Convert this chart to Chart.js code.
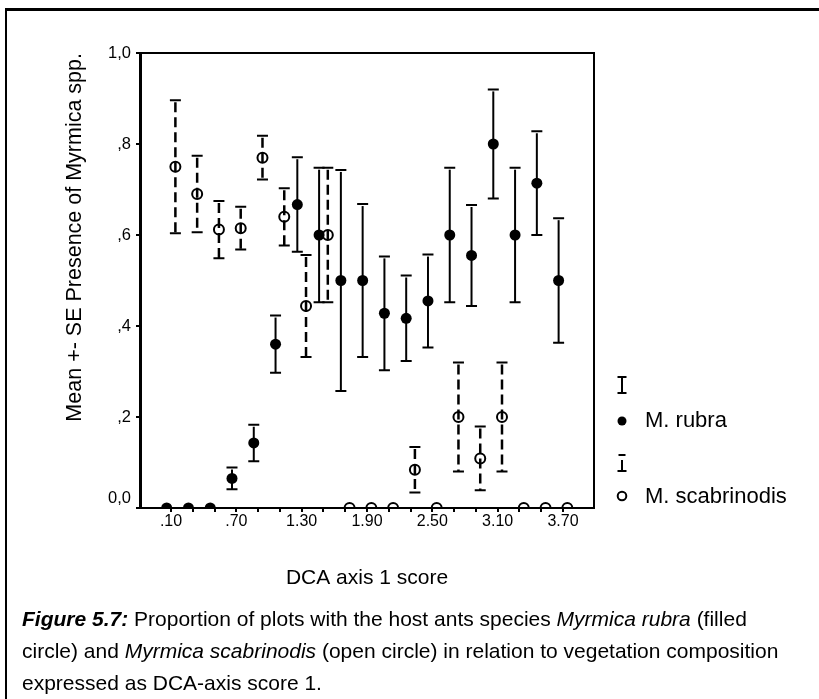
<!DOCTYPE html>
<html>
<head>
<meta charset="utf-8">
<title>Myrmica presence along DCA axis 1</title>
<script src="https://cdn.jsdelivr.net/npm/chart.js@4.4.1/dist/chart.umd.min.js"></script>
<style>
  html, body { margin: 0; padding: 0; background: #fff; }
  body { width: 819px; height: 699px; position: relative; overflow: hidden;
         font-family: "Liberation Sans", Arial, sans-serif; color: #000; }
  #frame { position: absolute; left: 5px; top: 8px; width: 840px; height: 690px;
           border-top: 3px solid #000; border-left: 2px solid #000; }
  #plot { position: absolute; left: 0; top: 0; width: 819px; height: 699px; }
  #caption { position: absolute; left: 22px; top: 603px; font-size: 21px;
             line-height: 32px; white-space: nowrap; }
</style>
</head>
<body>
<div id="frame"></div>
<div id="plot"><canvas id="chart" width="819" height="699"></canvas></div>
<div id="caption"><b><i>Figure 5.7:</i></b> Proportion of plots with the host ants species <i>Myrmica rubra</i> (filled<br>circle) and <i>Myrmica scabrinodis</i> (open circle) in relation to vegetation composition<br>expressed as DCA-axis score 1.</div>
<script>
// DCA axis 1 score classes
const categoryScores = [0.10, 0.30, 0.50, 0.70, 0.90, 1.10, 1.30, 1.50, 1.70, 1.90,
                        2.10, 2.30, 2.50, 2.70, 2.90, 3.10, 3.30, 3.50, 3.70];

// Myrmica rubra: mean presence and standard error per class
const rubraMean = [0, 0, 0, 0.065, 0.143, 0.360, 0.667, 0.600, 0.500, 0.500,
                   0.428, 0.417, 0.455, 0.600, 0.555, 0.800, 0.600, 0.714, 0.500];
const rubraSE   = [0, 0, 0, 0.024, 0.040, 0.063, 0.104, 0.148, 0.243, 0.168,
                   0.125, 0.094, 0.102, 0.148, 0.111, 0.120, 0.148, 0.114, 0.137];

// Myrmica scabrinodis: mean presence and standard error per class
const scabMean = [0.750, 0.690, 0.612, 0.615, 0.770, 0.640, 0.444, 0.600, 0, 0,
                  0, 0.084, 0, 0.200, 0.109, 0.200, 0, 0, 0];
const scabSE   = [0.146, 0.084, 0.063, 0.047, 0.048, 0.063, 0.112, 0.148, 0, 0,
                  0, 0.050, 0, 0.120, 0.070, 0.120, 0, 0, 0];

// axis tick labels
const labeledScores = [0.10, 0.70, 1.30, 1.90, 2.50, 3.10, 3.70];
const xTickLabels   = ['.10', '.70', '1.30', '1.90', '2.50', '3.10', '3.70'];
const yTickLabels   = ['0,0', ',2', ',4', ',6', ',8', '1,0'];

const FONT = "'Liberation Sans', Arial, sans-serif";
Chart.defaults.font.family = FONT;
Chart.defaults.color = '#000';

// the two species sit side by side within each score class
const clusterOffset = 0.04;

// vertical mean +- SE bars, drawn underneath the markers
const errorBarPlugin = {
  id: 'errorBars',
  beforeDatasetsDraw(chart) {
    const { ctx, scales: { x, y } } = chart;
    chart.data.datasets.forEach((ds) => {
      const cap = 5.5;
      ds.data.forEach((pt, i) => {
        const se = ds.errorBars[i];
        if (!se) return;
        const px = x.getPixelForValue(pt.x);
        const top = y.getPixelForValue(pt.y + se);
        const bot = y.getPixelForValue(pt.y - se);
        ctx.save();
        ctx.strokeStyle = '#000';
        ctx.lineWidth = ds.barWidth;
        ctx.setLineDash(ds.barDash);
        ctx.beginPath();
        ctx.moveTo(px, top + 2);
        ctx.lineTo(px, bot);
        ctx.stroke();
        ctx.setLineDash([]);
        ctx.lineWidth = 2;
        ctx.beginPath();
        ctx.moveTo(px - cap, top); ctx.lineTo(px + cap, top);
        ctx.moveTo(px - cap, bot); ctx.lineTo(px + cap, bot);
        ctx.stroke();
        ctx.restore();
      });
    });
  },
  afterDraw(chart) {
    // close the plot frame on the top and right
    const { ctx, chartArea: a } = chart;
    ctx.save();
    ctx.strokeStyle = '#000';
    ctx.lineWidth = 2;
    ctx.beginPath();
    ctx.moveTo(a.left, a.top);
    ctx.lineTo(a.right, a.top);
    ctx.lineTo(a.right, a.bottom);
    ctx.stroke();
    ctx.restore();
  }
};

// legend at the right: error-bar symbol above each marker
const sideLegendPlugin = {
  id: 'sideLegend',
  afterDraw(chart) {
    const { ctx, chartArea: a } = chart;
    const ix = a.right + 28;
    const tx = a.right + 51;
    const cap = 4.5;
    ctx.save();
    ctx.strokeStyle = '#000';
    ctx.fillStyle = '#000';
    ctx.lineWidth = 2;

    // solid bar symbol
    ctx.beginPath();
    ctx.moveTo(ix, 377); ctx.lineTo(ix, 393);
    ctx.moveTo(ix - cap, 377); ctx.lineTo(ix + cap, 377);
    ctx.moveTo(ix - cap, 393); ctx.lineTo(ix + cap, 393);
    ctx.stroke();

    // filled marker
    ctx.beginPath();
    ctx.arc(ix, 421, 4.5, 0, Math.PI * 2);
    ctx.fill();

    // dashed bar symbol
    ctx.beginPath();
    ctx.moveTo(ix - cap + 1, 455); ctx.lineTo(ix + cap - 1, 455);
    ctx.moveTo(ix, 460); ctx.lineTo(ix, 471);
    ctx.moveTo(ix - cap, 471); ctx.lineTo(ix + cap, 471);
    ctx.stroke();

    // open marker
    ctx.beginPath();
    ctx.arc(ix, 496, 4.3, 0, Math.PI * 2);
    ctx.stroke();

    ctx.font = '22px ' + FONT;
    ctx.textBaseline = 'middle';
    ctx.textAlign = 'left';
    ctx.fillText(chart.data.datasets[0].label, tx, 421);
    ctx.fillText(chart.data.datasets[1].label, tx, 497);
    ctx.restore();
  }
};

new Chart(document.getElementById('chart'), {
  type: 'scatter',
  data: {
    datasets: [
      {
        label: 'M. rubra',
        data: categoryScores.map((s, i) => ({ x: s - clusterOffset, y: rubraMean[i] })),
        errorBars: rubraSE,
        barDash: [],
        barWidth: 2,
        pointRadius: 5.5,
        pointBackgroundColor: '#000',
        pointBorderColor: '#000',
        pointBorderWidth: 0
      },
      {
        label: 'M. scabrinodis',
        data: categoryScores.map((s, i) => ({ x: s + clusterOffset, y: scabMean[i] })),
        errorBars: scabSE,
        barDash: [10, 5],
        barWidth: 2.5,
        pointRadius: 5,
        pointBackgroundColor: 'rgba(0,0,0,0)',
        pointBorderColor: '#000',
        pointBorderWidth: 2
      }
    ]
  },
  options: {
    responsive: false,
    animation: false,
    events: [],
    layout: { padding: { top: 53, right: 225, left: 0, bottom: 0 } },
    plugins: { legend: { display: false }, tooltip: { enabled: false } },
    scales: {
      x: {
        type: 'linear',
        min: -0.185,
        max: 3.985,
        afterFit(scale) { scale.height = 191; },
        afterBuildTicks(scale) { scale.ticks = categoryScores.map(v => ({ value: v })); },
        grid: { drawOnChartArea: false, drawTicks: true, tickLength: 4, color: '#000', lineWidth: 2 },
        border: { color: '#000', width: 2 },
        ticks: {
          autoSkip: false, maxRotation: 0, padding: 0, color: '#000',
          font: { size: 16 },
          callback(value) {
            const k = labeledScores.findIndex(s => Math.abs(s - value) < 1e-6);
            return k >= 0 ? xTickLabels[k] : '';
          }
        },
        title: {
          display: true, text: 'DCA axis 1 score', color: '#000',
          font: { size: 21 }, padding: { top: 0, bottom: 108 }
        }
      },
      y: {
        min: 0,
        max: 1,
        afterFit(scale) { scale.width = 140; },
        grid: { drawOnChartArea: false, drawTicks: true, tickLength: 4, color: '#000', lineWidth: 2 },
        border: { color: '#000', width: 3 },
        ticks: {
          stepSize: 0.2, padding: 5, color: '#000',
          font: { size: 16.5 },
          callback(value, index) {
            const label = yTickLabels[index];
            // the zero label is lifted clear of the x-axis labels
            return index === 0 ? [label, ''] : label;
          }
        },
        title: {
          display: true, align: 'end', text: 'Mean +- SE Presence of Myrmica spp.', color: '#000',
          font: { size: 21.5 }, padding: { top: 62, bottom: 0 }
        }
      }
    }
  },
  plugins: [errorBarPlugin, sideLegendPlugin]
});
</script>
</body>
</html>
